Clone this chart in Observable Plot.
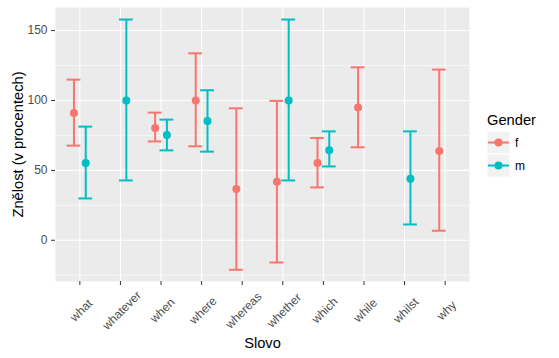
<!DOCTYPE html>
<html><head><meta charset="utf-8">
<script src="https://cdn.jsdelivr.net/npm/d3@7"></script>
<script src="https://cdn.jsdelivr.net/npm/@observablehq/plot@0.6"></script>
<style>
body{margin:0;background:#fff;}
#wrap{position:relative;width:559px;height:358px;font-family:"Liberation Sans",Arial,sans-serif;}
#legend{position:absolute;left:480px;top:108px;}
</style>
</head><body><div id="wrap"></div>
<script>
const words = ["what","whatever","when","where","whereas","whether","which","while","whilst","why"];
const genders = ["f","m"];
const colors = ["#F8766D","#00BFC4"];
const fWords = ["what","when","where","whereas","whether","which","while","why"];
const fMean  = [91.0, 80.3, 100.0, 36.7, 41.9, 55.3, 94.9, 63.9];
const fLower = [67.7, 70.7, 67.2, -21.1, -15.9, 37.8, 66.5, 6.8];
const fUpper = [114.9, 91.3, 133.7, 94.4, 99.7, 73.2, 123.7, 122.1];
const mWords = ["what","whatever","when","where","whether","which","whilst"];
const mMean  = [55.3, 100.0, 75.3, 85.3, 100.0, 64.3, 44.0];
const mLower = [29.9, 42.8, 64.3, 63.4, 42.8, 52.8, 11.3];
const mUpper = [81.3, 157.9, 86.3, 107.3, 157.9, 77.9, 77.9];
const yTicks = [0, 50, 100, 150];
const yMinor = [-25, 25, 75, 125];

const dodge = 0.145, capHalf = 0.17;
const rows = [];
fWords.forEach((w, i) => rows.push({word: w, gender: "f", pos: words.indexOf(w) + 1 - dodge, mean: fMean[i], lower: fLower[i], upper: fUpper[i]}));
mWords.forEach((w, i) => rows.push({word: w, gender: "m", pos: words.indexOf(w) + 1 + dodge, mean: mMean[i], lower: mLower[i], upper: mUpper[i]}));
const idx = words.map((w, i) => i + 1);

const chart = Plot.plot({
  width: 559, height: 358,
  marginLeft: 55, marginRight: 90, marginTop: 7, marginBottom: 77,
  style: {fontFamily: '"Liberation Sans", Arial, sans-serif', background: "transparent"},
  x: {type: "linear", domain: [0.4, 10.6]},
  y: {domain: [-29.5, 166.5]},
  color: {domain: genders, range: colors},
  marks: [
    Plot.frame({fill: "#EBEBEB", stroke: null}),
    Plot.ruleY(yMinor, {stroke: "#fff", strokeWidth: 0.55}),
    Plot.ruleY(yTicks, {stroke: "#fff", strokeWidth: 1.1}),
    Plot.ruleX(idx, {stroke: "#fff", strokeWidth: 1.1}),
    Plot.axisY({ticks: yTicks, tickSize: 4, tickPadding: 4, stroke: "#333", color: "#4D4D4D", fontSize: 12, label: null}),
    Plot.axisX({ticks: idx, tickFormat: () => "", tickSize: 4, stroke: "#333", label: null}),
    Plot.text(idx, {x: d => d, text: d => words[d - 1], frameAnchor: "bottom", dy: 29, dx: 1.5, rotate: -45, textAnchor: "middle", lineAnchor: "middle", fill: "#4D4D4D", fontSize: 12}),
    Plot.text(["Slovo"], {frameAnchor: "bottom", dy: 62, textAnchor: "middle", lineAnchor: "middle", fontSize: 14.7, fill: "#000"}),
    Plot.text(["Znělost (v procentech)"], {frameAnchor: "left", dx: -37, rotate: -90, textAnchor: "middle", lineAnchor: "middle", fontSize: 14.7, fill: "#000"}),
    Plot.ruleX(rows, {x: "pos", y1: "lower", y2: "upper", stroke: "gender", strokeWidth: 2}),
    Plot.ruleY(rows, {y: "upper", x1: d => d.pos - capHalf, x2: d => d.pos + capHalf, stroke: "gender", strokeWidth: 2}),
    Plot.ruleY(rows, {y: "lower", x1: d => d.pos - capHalf, x2: d => d.pos + capHalf, stroke: "gender", strokeWidth: 2}),
    Plot.dot(rows, {x: "pos", y: "mean", fill: "gender", r: 4})
  ]
});
const wrap = document.getElementById("wrap");
wrap.appendChild(chart);

const legend = document.createElement("div");
legend.id = "legend";
let svg = `<svg width="70" height="75" xmlns="http://www.w3.org/2000/svg" font-family="Liberation Sans, Arial, sans-serif">`;
svg += `<text x="7" y="17" font-size="14.7" fill="#000">Gender</text>`;
genders.forEach((g, i) => {
  const y0 = 23 + i * 23;
  svg += `<rect x="7" y="${y0}" width="23" height="23" fill="#F2F2F2" stroke="#fff"/>`;
  svg += `<line x1="8" x2="29" y1="${y0 + 11.5}" y2="${y0 + 11.5}" stroke="${colors[i]}" stroke-width="2"/>`;
  svg += `<circle cx="18.5" cy="${y0 + 11.5}" r="4" fill="${colors[i]}"/>`;
  svg += `<text x="35" y="${y0 + 15.5}" font-size="12" fill="#000">${g}</text>`;
});
svg += `</svg>`;
legend.innerHTML = svg;
wrap.appendChild(legend);
</script>
</body></html>
